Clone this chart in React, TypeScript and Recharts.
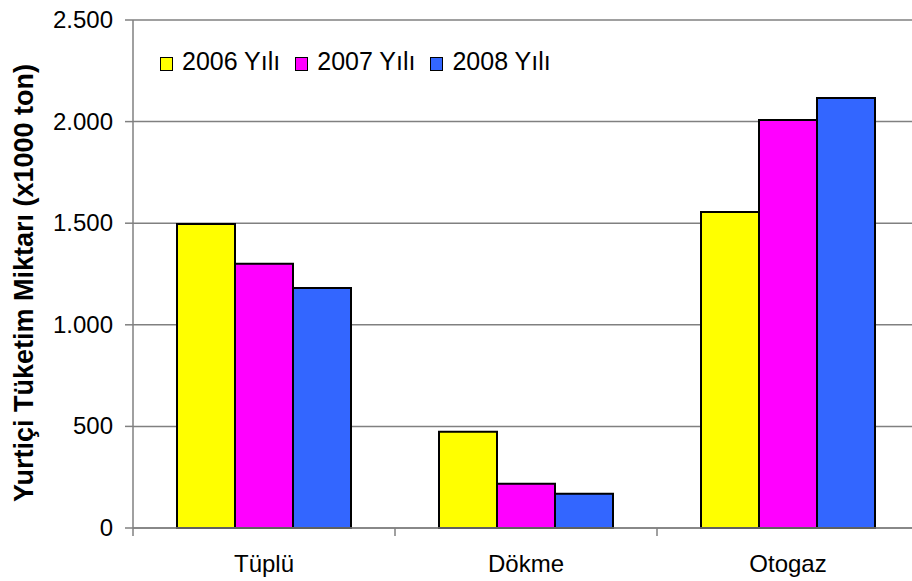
import { BarChart, Bar, XAxis, YAxis, CartesianGrid, Legend } from 'recharts';

const categories = ['Tüplü', 'Dökme', 'Otogaz'];
const y2006 = [1496, 474, 1555];
const y2007 = [1300, 218, 2008];
const y2008 = [1181, 169, 2116];
const yTicks = [0, 500, 1000, 1500, 2000, 2500];

const series = [
  { key: 'y2006', name: '2006 Yılı', color: '#ffff00' },
  { key: 'y2007', name: '2007 Yılı', color: '#ff00ff' },
  { key: 'y2008', name: '2008 Yılı', color: '#3366ff' },
];

const data = categories.map((name, i) => ({
  name,
  y2006: y2006[i],
  y2007: y2007[i],
  y2008: y2008[i],
}));

const FONT = '"Liberation Sans", Arial, sans-serif';
const fmt = (v: number) => v.toLocaleString('de-DE');

// Excel puts category ticks on the band boundaries, labels in the middle
function CategoryTick(props: any) {
  const { x, y, payload, band } = props;
  return (
    <g>
      <line x1={x - band / 2} x2={x - band / 2} y1={y} y2={y + 8} stroke="#808080" strokeWidth={1.5} />
      <text x={x} y={y + 44} textAnchor="middle" fontSize={24} fontFamily={FONT} fill="#000">
        {payload.value}
      </text>
    </g>
  );
}

function ValueTick(props: any) {
  const { x, y, payload } = props;
  return (
    <text x={x} y={y + 8} textAnchor="end" fontSize={24} fontFamily={FONT} fill="#000">
      {fmt(payload.value)}
    </text>
  );
}

function LegendBox() {
  return (
    <div style={{ display: 'flex', fontFamily: FONT, fontSize: 25, lineHeight: '28px', color: '#000' }}>
      {series.map(s => (
        <div key={s.key} style={{ display: 'flex', alignItems: 'center', marginRight: 15 }}>
          <span
            style={{
              width: 11,
              height: 12,
              background: s.color,
              border: '1px solid #000',
              marginRight: 9,
              position: 'relative',
              top: 3,
              display: 'inline-block',
            }}
          />
          <span>{s.name}</span>
        </div>
      ))}
    </div>
  );
}

function YLabel(props: any) {
  const { viewBox } = props;
  const cx = 24;
  const cy = viewBox.y + viewBox.height / 2 + 9;
  return (
    <text
      x={cx}
      y={cy}
      transform={`rotate(-90 ${cx} ${cy})`}
      textAnchor="middle"
      dominantBaseline="central"
      fontSize={27}
      fontWeight="bold"
      fontFamily={FONT}
      fill="#000"
    >
      Yurtiçi Tüketim Miktarı (x1000 ton)
    </text>
  );
}

export default function App() {
  const chartW = 919;
  const plotLeft = 133;
  const band = (chartW - plotLeft) / categories.length;
  return (
    <div style={{ position: 'absolute', left: 0, top: 0, width: 912, height: 581, overflow: 'hidden', background: '#fff' }}>
      <BarChart
        width={chartW}
        height={581}
        data={data}
        margin={{ top: 20, right: 0, left: 0, bottom: 0 }}
        barGap={0}
        barCategoryGap={44}
      >
        <CartesianGrid horizontal vertical={false} stroke="#808080" strokeWidth={1.5} />
        <XAxis
          dataKey="name"
          height={53}
          axisLine={{ stroke: '#808080', strokeWidth: 1.5 }}
          tickLine={false}
          tickSize={0}
          tickMargin={0}
          tick={<CategoryTick band={band} />}
          interval={0}
        />
        <YAxis
          width={plotLeft}
          domain={[0, 2500]}
          ticks={yTicks}
          axisLine={{ stroke: '#808080', strokeWidth: 1.5 }}
          tickLine={{ stroke: '#808080', strokeWidth: 1.5 }}
          tickSize={8}
          tickMargin={12}
          tick={<ValueTick />}
          label={<YLabel />}
        />
        <Legend
          layout="horizontal"
          verticalAlign="middle"
          align="center"
          content={<LegendBox />}
          wrapperStyle={{ position: 'absolute', left: 160, top: 47, width: 'auto', height: 'auto' }}
        />
        {series.map(s => (
          <Bar
            key={s.key}
            dataKey={s.key}
            name={s.name}
            fill={s.color}
            stroke="#000"
            strokeWidth={2}
            isAnimationActive={false}
          />
        ))}
      </BarChart>
    </div>
  );
}
